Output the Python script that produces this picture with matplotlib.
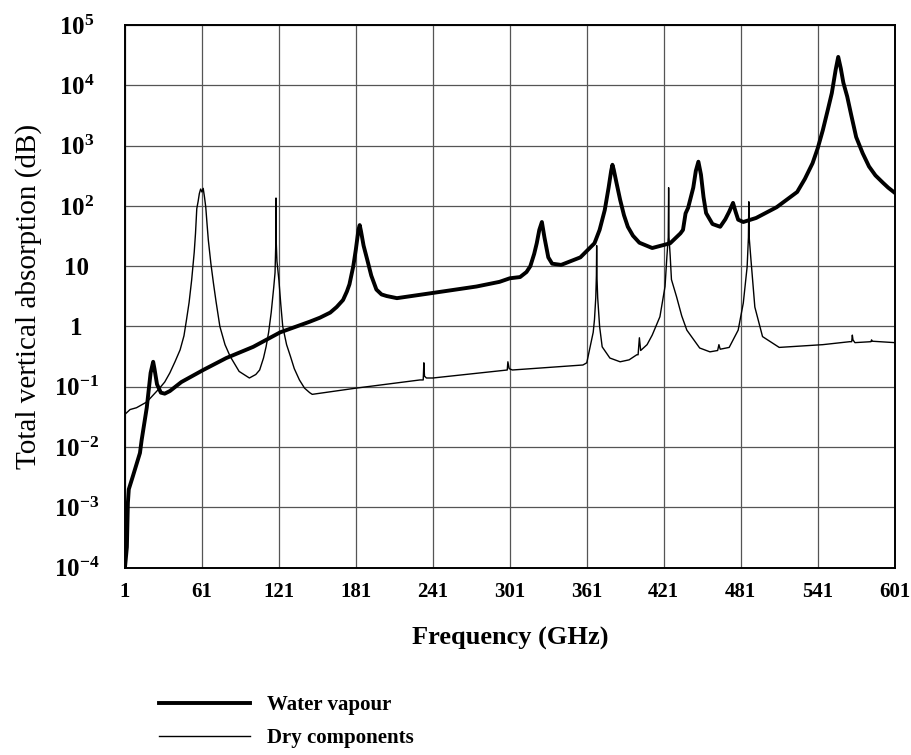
import matplotlib
matplotlib.use("Agg")
import matplotlib.pyplot as plt
from matplotlib.lines import Line2D

# water vapour absorption (GHz, dB)
water_f = [1, 2.5, 3.3, 4, 7, 12.7, 14, 18, 21, 23, 24, 26, 29, 32, 36, 45, 62, 80,
           101, 122, 145, 153, 161, 166, 171, 174, 176, 179, 181, 183, 184, 185,
           187, 190, 193, 197, 201, 205, 213, 241, 275, 293, 301, 309, 314, 317,
           320, 322, 324, 326, 328, 331, 334, 341, 356, 367, 371, 375, 378, 380,
           381, 382, 384, 387, 390, 393, 397, 402, 412, 426, 434, 436, 438, 440,
           444, 446, 448, 450, 452, 454, 459, 465, 469, 472, 475, 477, 479, 483,
           493, 509, 525, 531, 537, 541, 545, 549, 552, 555, 557, 559, 561, 564,
           567, 571, 576, 581, 586, 592, 596, 601]
water_v = [1e-4, 2.2e-4, 1.2e-3, 2e-3, 3.2e-3, 8e-3, 0.013, 0.045, 0.17, 0.26, 0.2,
           0.11, 0.08, 0.077, 0.085, 0.12, 0.19, 0.3, 0.46, 0.8, 1.2, 1.4, 1.7,
           2.1, 2.75, 3.8, 5, 10, 19, 40, 48, 38, 22, 12.5, 7, 4.1, 3.4, 3.2,
           2.95, 3.6, 4.6, 5.5, 6.3, 6.6, 8, 10, 16, 24, 40, 54, 30, 14, 11, 10.5,
           14, 24, 40, 85, 200, 380, 480, 400, 250, 126, 70, 45, 32, 24.5, 20, 24,
           35, 40, 75, 93, 200, 380, 540, 330, 140, 76, 50, 45, 60, 80, 112, 80,
           59, 54, 63, 95, 170, 280, 510, 900, 1800, 4000, 7400, 18000, 29500,
           19000, 11000, 6500, 3300, 1380, 750, 450, 320, 240, 200, 165]

# dry components (oxygen etc.)
dry_f = [1, 5, 10, 18, 28, 32, 36, 40, 44, 47, 49, 51, 53, 55, 56, 57, 58, 59, 60,
         61, 62, 63, 64, 65, 66, 68, 70, 72, 75, 79, 83, 90, 98, 103, 106, 109,
         111, 113, 115, 117, 118, 118.7, 118.75, 118.8, 119.5, 121, 122.5, 124,
         127, 130, 133, 137, 141, 145, 147, 181, 231, 233.5, 234, 234.5, 236, 241,
         299, 299.5, 300.5, 303, 358, 361, 363, 366, 367, 368, 368.5, 368.7, 368.9,
         369.5, 371, 373, 379, 387, 394, 400, 401, 402, 403, 408, 412, 418, 422,
         423.5, 424.5, 424.8, 425.1, 426, 427, 431, 435, 439, 449, 457, 463, 464,
         465, 472, 479, 483, 486, 487, 487.3, 487.6, 489, 492, 498, 511, 545, 566,
         567.5, 568, 568.5, 570, 582.5, 583, 583.5, 601]
dry_v = [0.035, 0.042, 0.045, 0.056, 0.095, 0.12, 0.17, 0.26, 0.41, 0.7, 1.3, 2.5,
         5.9, 17, 35, 90, 117, 160, 190, 170, 195, 140, 95, 50, 27, 11, 5.2, 2.6,
         1.0, 0.5, 0.32, 0.18, 0.14, 0.16, 0.19, 0.3, 0.46, 0.8, 1.7, 4.5, 7.8,
         30, 135, 30, 12, 5.9, 2.3, 1.0, 0.5, 0.32, 0.2, 0.13, 0.095, 0.08, 0.075,
         0.095, 0.13, 0.13, 0.25, 0.15, 0.14, 0.14, 0.19, 0.26, 0.2, 0.19, 0.23,
         0.25, 0.4, 0.8, 1.3, 3, 7, 22, 7, 3, 1.0, 0.46, 0.3, 0.26, 0.28, 0.34,
         0.34, 0.65, 0.4, 0.5, 0.72, 1.45, 4.6, 15, 30, 200, 30, 15, 6, 3.1, 1.5,
         0.87, 0.44, 0.38, 0.4, 0.5, 0.42, 0.45, 0.87, 2.45, 9.8, 30, 117, 30,
         12.6, 2.1, 0.68, 0.45, 0.5, 0.56, 0.56, 0.72, 0.6, 0.54, 0.56, 0.6, 0.57,
         0.54]

x_ticks = [1, 61, 121, 181, 241, 301, 361, 421, 481, 541, 601]
y_ticks = [1e-4, 1e-3, 1e-2, 1e-1, 1, 10, 1e2, 1e3, 1e4, 1e5]
y_labels = [r"$\mathbf{10^{-4}}$", r"$\mathbf{10^{-3}}$", r"$\mathbf{10^{-2}}$",
            r"$\mathbf{10^{-1}}$", "1", "10", r"$\mathbf{10^{2}}$",
            r"$\mathbf{10^{3}}$", r"$\mathbf{10^{4}}$", r"$\mathbf{10^{5}}$"]

plt.rcParams["font.family"] = ["Liberation Serif", "DejaVu Serif"]
plt.rcParams["mathtext.fontset"] = "custom"
plt.rcParams["mathtext.rm"] = "Liberation Serif"
plt.rcParams["mathtext.bf"] = "Liberation Serif:bold"

fig = plt.figure(figsize=(9.12, 7.55), dpi=100)
ax = fig.add_axes([0.137, 0.248, 0.844, 0.719])

ax.plot(water_f, water_v, color="black", lw=2.8, solid_joinstyle="round")
ax.plot(dry_f, dry_v, color="black", lw=1.0)

ax.set_yscale("log")
ax.set_xlim(1, 601)
ax.set_ylim(1e-4, 1e5)
ax.set_xticks(x_ticks)
ax.set_xticklabels([str(t) for t in x_ticks], fontsize=15, fontweight="bold")
ax.set_yticks(y_ticks)
ax.set_yticklabels(y_labels, fontsize=18, fontweight="bold", ha="center")
ax.yaxis.set_minor_locator(matplotlib.ticker.NullLocator())
ax.tick_params(length=0)
ax.tick_params(axis="x", pad=10)
ax.tick_params(axis="y", pad=35)
ax.grid(True, color="#555555", lw=0.9)
for s in ax.spines.values():
    s.set_linewidth(1.4)

ax.set_xlabel("Frequency (GHz)", fontsize=19, fontweight="bold", labelpad=18)
ax.set_ylabel("Total vertical absorption (dB)", fontsize=21, labelpad=8)

handles = [Line2D([], [], color="black", lw=2.8), Line2D([], [], color="black", lw=1.0)]
fig.legend(handles, ["Water vapour", "Dry components"], loc="upper left",
           bbox_to_anchor=(0.165, 0.09), frameon=False, handlelength=4.4,
           handletextpad=0.8, labelspacing=0.6, borderaxespad=0,
           prop={"size": 15, "weight": "bold"})

fig.savefig("out.png", dpi=100)
